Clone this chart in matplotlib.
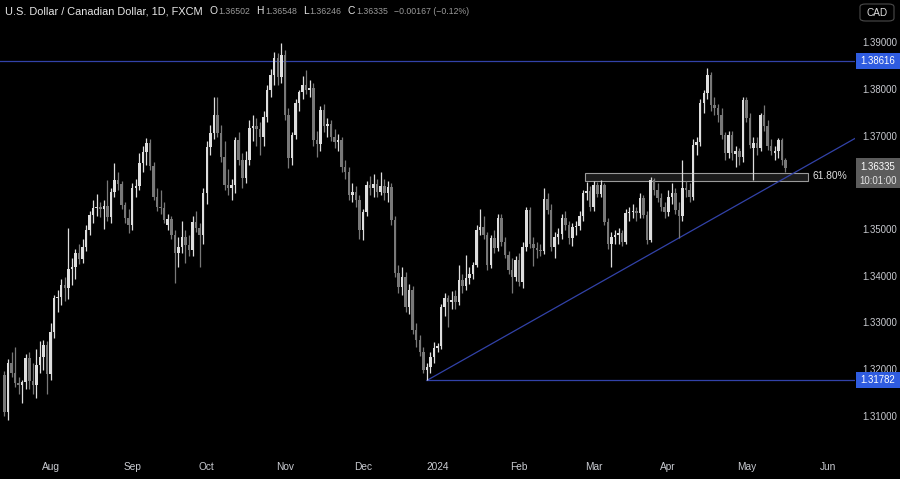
import numpy as np
import pandas as pd
import matplotlib
matplotlib.use('Agg')
import matplotlib.pyplot as plt
from matplotlib.patches import Rectangle, FancyBboxPatch

plt.rcParams['font.family'] = ['Liberation Sans', 'DejaVu Sans']

# USD/CAD daily candles, 2023-07-13 .. 2024-05-16 (one line per month)
start_date = '2023-07-13'
opens = [
    1.3190, 1.3110, 1.3216, 1.3195, 1.3172, 1.3168, 1.3174, 1.3226, 1.3177, 1.3168, 1.3212, 1.3228, 1.3253,
    1.3193, 1.3282, 1.3354, 1.3357, 1.3382, 1.3376, 1.3416, 1.3421, 1.3450, 1.3438, 1.3464, 1.3500, 1.3532, 1.3547, 1.3550, 1.3545, 1.3551, 1.3527, 1.3581, 1.3607, 1.3598, 1.3553, 1.3526,
    1.3511, 1.3590, 1.3595, 1.3643, 1.3667, 1.3686, 1.3636, 1.3571, 1.3549, 1.3546, 1.3510, 1.3524, 1.3489, 1.3451, 1.3464, 1.3485, 1.3468, 1.3458, 1.3517, 1.3505, 1.3489,
    1.3579, 1.3678, 1.3708, 1.3746, 1.3708, 1.3656, 1.3596, 1.3590, 1.3596, 1.3693, 1.3650, 1.3611, 1.3650, 1.3718, 1.3722, 1.3716, 1.3700, 1.3742, 1.3799, 1.3832, 1.3868, 1.3827,
    1.3874, 1.3745, 1.3654, 1.3703, 1.3772, 1.3795, 1.3810, 1.3800, 1.3803, 1.3693, 1.3685, 1.3757, 1.3723, 1.3726, 1.3699, 1.3688, 1.3693, 1.3635, 1.3625, 1.3575, 1.3582, 1.3565,
    1.3500, 1.3539, 1.3596, 1.3590, 1.3598, 1.3582, 1.3595, 1.3579, 1.3592, 1.3521, 1.3408, 1.3378, 1.3400, 1.3335, 1.3372, 1.3286, 1.3265, 1.3240, 1.3201, 1.3208, 1.3228,
    1.3248, 1.3252, 1.3335, 1.3354, 1.3345, 1.3358, 1.3345, 1.3393, 1.3380, 1.3397, 1.3406, 1.3425, 1.3500, 1.3506, 1.3489, 1.3425, 1.3482, 1.3461, 1.3526, 1.3474, 1.3447, 1.3415, 1.3400,
    1.3436, 1.3389, 1.3464, 1.3543, 1.3470, 1.3461, 1.3457, 1.3455, 1.3566, 1.3543, 1.3464, 1.3484, 1.3491, 1.3525, 1.3510, 1.3482, 1.3507, 1.3509, 1.3530, 1.3579, 1.3584,
    1.3550, 1.3596, 1.3578, 1.3596, 1.3518, 1.3470, 1.3486, 1.3490, 1.3493, 1.3475, 1.3536, 1.3539, 1.3541, 1.3536, 1.3568, 1.3532, 1.3479, 1.3607, 1.3586, 1.3568, 1.3550,
    1.3539, 1.3571, 1.3579, 1.3543, 1.3530, 1.3590, 1.3585, 1.3571, 1.3682, 1.3688, 1.3772, 1.3794, 1.3832, 1.3767, 1.3760, 1.3745, 1.3703, 1.3665, 1.3703, 1.3662, 1.3668, 1.3656,
    1.3778, 1.3740, 1.3676, 1.3686, 1.3675, 1.3745, 1.3722, 1.3680, 1.3664, 1.3668, 1.3692, 1.36502,
]
highs = [
    1.3198, 1.3225, 1.3240, 1.3250, 1.3185, 1.3180, 1.3235, 1.3240, 1.3215, 1.3246, 1.3262, 1.3265, 1.3262,
    1.3300, 1.3362, 1.3372, 1.3396, 1.3400, 1.3504, 1.3440, 1.3460, 1.3470, 1.3480, 1.3510, 1.3540, 1.3565, 1.3577, 1.3560, 1.3565, 1.3607, 1.3590, 1.3643, 1.3625, 1.3605, 1.3560, 1.3545,
    1.3600, 1.3610, 1.3665, 1.3680, 1.3697, 1.3694, 1.3645, 1.3590, 1.3585, 1.3560, 1.3535, 1.3530, 1.3500, 1.3485, 1.3520, 1.3500, 1.3490, 1.3530, 1.3540, 1.3515, 1.3590,
    1.3690, 1.3725, 1.3784, 1.3785, 1.3725, 1.3690, 1.3630, 1.3610, 1.3700, 1.3710, 1.3665, 1.3670, 1.3735, 1.3745, 1.3740, 1.3730, 1.3755, 1.3810, 1.3845, 1.3880, 1.3878, 1.3900,
    1.3885, 1.3760, 1.3710, 1.3780, 1.3800, 1.3830, 1.3842, 1.3820, 1.3815, 1.3712, 1.3765, 1.3770, 1.3740, 1.3735, 1.3715, 1.3705, 1.3700, 1.3650, 1.3635, 1.3600, 1.3595, 1.3575,
    1.3545, 1.3605, 1.3615, 1.3620, 1.3610, 1.3625, 1.3610, 1.3605, 1.3600, 1.3530, 1.3425, 1.3420, 1.3410, 1.3385, 1.3380, 1.3300, 1.3275, 1.3250, 1.3215, 1.3240, 1.3260,
    1.3258, 1.3342, 1.3365, 1.3362, 1.3370, 1.3372, 1.3425, 1.3405, 1.3447, 1.3420, 1.3432, 1.3510, 1.3545, 1.3530, 1.3495, 1.3490, 1.3500, 1.3535, 1.3535, 1.3485, 1.3455, 1.3440, 1.3445,
    1.3450, 1.3475, 1.3550, 1.3550, 1.3485, 1.3475, 1.3470, 1.3590, 1.3580, 1.3555, 1.3495, 1.3505, 1.3535, 1.3540, 1.3520, 1.3515, 1.3520, 1.3540, 1.3585, 1.3603, 1.3595,
    1.3605, 1.3602, 1.3607, 1.3600, 1.3525, 1.3495, 1.3500, 1.3505, 1.3500, 1.3545, 1.3550, 1.3555, 1.3550, 1.3580, 1.3575, 1.3540, 1.3614, 1.3612, 1.3600, 1.3580, 1.3560,
    1.3585, 1.3600, 1.3590, 1.3560, 1.3650, 1.3605, 1.3600, 1.3695, 1.3700, 1.3780, 1.3800, 1.3846, 1.3838, 1.3785, 1.3770, 1.3760, 1.3710, 1.3712, 1.3712, 1.3680, 1.3675, 1.3785,
    1.3785, 1.3750, 1.3700, 1.3700, 1.3750, 1.3767, 1.3735, 1.3695, 1.3680, 1.3697, 1.3697, 1.36548,
]
lows = [
    1.3103, 1.3093, 1.3185, 1.3165, 1.3150, 1.3130, 1.3160, 1.3160, 1.3150, 1.3140, 1.3195, 1.3200, 1.3150,
    1.3180, 1.3270, 1.3325, 1.3340, 1.3348, 1.3352, 1.3382, 1.3395, 1.3428, 1.3430, 1.3455, 1.3490, 1.3515, 1.3530, 1.3528, 1.3502, 1.3520, 1.3515, 1.3570, 1.3585, 1.3545, 1.3515, 1.3494,
    1.3500, 1.3570, 1.3585, 1.3625, 1.3640, 1.3628, 1.3565, 1.3540, 1.3535, 1.3515, 1.3500, 1.3480, 1.3387, 1.3420, 1.3450, 1.3430, 1.3445, 1.3445, 1.3495, 1.3421, 1.3470,
    1.3555, 1.3660, 1.3695, 1.3700, 1.3645, 1.3585, 1.3575, 1.3565, 1.3580, 1.3640, 1.3590, 1.3600, 1.3640, 1.3690, 1.3680, 1.3660, 1.3680, 1.3730, 1.3785, 1.3810, 1.3810, 1.3815,
    1.3735, 1.3633, 1.3640, 1.3695, 1.3755, 1.3780, 1.3790, 1.3785, 1.3680, 1.3656, 1.3670, 1.3710, 1.3700, 1.3690, 1.3675, 1.3670, 1.3625, 1.3610, 1.3565, 1.3560, 1.3550, 1.3480,
    1.3478, 1.3530, 1.3575, 1.3570, 1.3570, 1.3575, 1.3565, 1.3560, 1.3510, 1.3400, 1.3365, 1.3360, 1.3325, 1.3320, 1.3278, 1.3250, 1.3230, 1.3195, 1.31782, 1.3195, 1.3215,
    1.3240, 1.3245, 1.3315, 1.3293, 1.3330, 1.3330, 1.3340, 1.3365, 1.3372, 1.3385, 1.3395, 1.3420, 1.3490, 1.3480, 1.3415, 1.3418, 1.3450, 1.3455, 1.3465, 1.3440, 1.3405, 1.3365, 1.3390,
    1.3380, 1.3375, 1.3455, 1.3462, 1.3422, 1.3440, 1.3445, 1.3448, 1.3535, 1.3455, 1.3440, 1.3470, 1.3480, 1.3500, 1.3470, 1.3465, 1.3490, 1.3500, 1.3520, 1.3565, 1.3540,
    1.3540, 1.3570, 1.3570, 1.3510, 1.3460, 1.3421, 1.3470, 1.3470, 1.3465, 1.3470, 1.3520, 1.3525, 1.3520, 1.3525, 1.3525, 1.3470, 1.3475, 1.3575, 1.3560, 1.3540, 1.3525,
    1.3530, 1.3555, 1.3535, 1.3483, 1.3520, 1.3570, 1.3560, 1.3565, 1.3660, 1.3680, 1.3750, 1.3780, 1.3755, 1.3745, 1.3730, 1.3695, 1.3650, 1.3655, 1.3650, 1.3635, 1.3640, 1.3645,
    1.3730, 1.3675, 1.3607, 1.3660, 1.3668, 1.3712, 1.3672, 1.3660, 1.3650, 1.3655, 1.3640, 1.36246,
]
closes = [
    1.3110, 1.3216, 1.3195, 1.3172, 1.3168, 1.3174, 1.3226, 1.3177, 1.3168, 1.3212, 1.3228, 1.3253, 1.3193,
    1.3282, 1.3354, 1.3357, 1.3382, 1.3376, 1.3416, 1.3421, 1.3450, 1.3438, 1.3464, 1.3500, 1.3532, 1.3547, 1.3550, 1.3545, 1.3551, 1.3527, 1.3581, 1.3607, 1.3598, 1.3553, 1.3526, 1.3511,
    1.3590, 1.3595, 1.3643, 1.3667, 1.3686, 1.3636, 1.3571, 1.3549, 1.3546, 1.3521, 1.3524, 1.3489, 1.3451, 1.3464, 1.3485, 1.3468, 1.3458, 1.3517, 1.3505, 1.3489, 1.3579,
    1.3678, 1.3708, 1.3746, 1.3708, 1.3656, 1.3596, 1.3590, 1.3596, 1.3693, 1.3650, 1.3611, 1.3650, 1.3718, 1.3722, 1.3716, 1.3700, 1.3742, 1.3799, 1.3832, 1.3868, 1.3827, 1.3874,
    1.3745, 1.3654, 1.3703, 1.3772, 1.3795, 1.3810, 1.3800, 1.3803, 1.3693, 1.3685, 1.3757, 1.3723, 1.3726, 1.3699, 1.3688, 1.3693, 1.3635, 1.3625, 1.3575, 1.3582, 1.3565, 1.3500,
    1.3539, 1.3596, 1.3590, 1.3598, 1.3582, 1.3595, 1.3579, 1.3592, 1.3521, 1.3408, 1.3378, 1.3400, 1.3335, 1.3372, 1.3286, 1.3265, 1.3240, 1.3201, 1.3208, 1.3228, 1.3248,
    1.3252, 1.3335, 1.3354, 1.3345, 1.3350, 1.3345, 1.3393, 1.3380, 1.3397, 1.3406, 1.3425, 1.3500, 1.3506, 1.3489, 1.3425, 1.3482, 1.3461, 1.3526, 1.3474, 1.3447, 1.3415, 1.3400, 1.3436,
    1.3389, 1.3464, 1.3543, 1.3470, 1.3461, 1.3457, 1.3455, 1.3566, 1.3543, 1.3464, 1.3484, 1.3491, 1.3525, 1.3510, 1.3482, 1.3507, 1.3509, 1.3530, 1.3579, 1.3584, 1.3550,
    1.3596, 1.3578, 1.3596, 1.3518, 1.3470, 1.3486, 1.3490, 1.3493, 1.3475, 1.3536, 1.3539, 1.3541, 1.3536, 1.3568, 1.3532, 1.3479, 1.3607, 1.3586, 1.3568, 1.3550, 1.3539,
    1.3571, 1.3579, 1.3543, 1.3530, 1.3590, 1.3585, 1.3571, 1.3682, 1.3688, 1.3772, 1.3794, 1.3832, 1.3767, 1.3760, 1.3745, 1.3703, 1.3665, 1.3703, 1.3665, 1.3668, 1.3656, 1.3778,
    1.3740, 1.3682, 1.3686, 1.3675, 1.3745, 1.3722, 1.3680, 1.3670, 1.3668, 1.3692, 1.3650, 1.36335,
]

# levels drawn on the chart
resistance = 1.38616
support = 1.31782
last_price = 1.36335
zone_low, zone_high = 1.3605, 1.3621
zone_start, zone_end = '2024-02-28', '2024-05-24'
trend_p1 = ('2023-12-27', 1.31782)
trend_p2 = ('2024-04-04', 1.3483)
# 1.36 sits under the last-price badge, so the scale does not show it
price_ticks = [1.39, 1.38, 1.37, 1.35, 1.34, 1.33, 1.32, 1.31]
month_starts = ['2023-08-01', '2023-09-01', '2023-10-02', '2023-11-01', '2023-12-01',
                '2024-01-01', '2024-02-01', '2024-03-01', '2024-04-01', '2024-05-01', '2024-06-03']
month_labels = ['Aug', 'Sep', 'Oct', 'Nov', 'Dec', '2024', 'Feb', 'Mar', 'Apr', 'May', 'Jun']

o = np.array(opens); h = np.array(highs); l = np.array(lows); c = np.array(closes)
n = len(c)
days = pd.bdate_range(start_date, '2024-06-28')
pos = lambda d: days.searchsorted(pd.Timestamp(d))
x = np.arange(n)

UP = '#dedede'
DOWN = '#787878'
LINE = '#3242a8'
BLUE = '#2f5ce0'
TXT = '#c9cbd1'

fig = plt.figure(figsize=(9, 4.79), dpi=100, facecolor='black')
ax = fig.add_axes([0, 24/479, 855/900, 455/479])
ax.set_facecolor('black')
ax.set_xlim(-1.25, 239.6)
ax.set_ylim(1.30187, 1.39920)
ax.axis('off')

col = np.where(c >= o, UP, DOWN)
ax.vlines(x, l, h, colors=col, linewidth=0.9, zorder=3)
body = c - o
body = np.where(np.abs(body) < 0.00004, 0.00004, body)
ax.bar(x, body, bottom=o, width=0.7, color=col, linewidth=0, zorder=4)

# horizontal levels
ax.axhline(resistance, color=LINE, linewidth=0.9, zorder=2)
x_low = pos(trend_p1[0])
ax.plot([x_low, 239.6], [support, support], color=LINE, linewidth=0.9, zorder=2)

# trend line through two lows, extended to right edge
x2 = pos(trend_p2[0])
slope = (trend_p2[1] - trend_p1[1]) / (x2 - x_low)
xe = 239.6
ax.plot([x_low, xe], [trend_p1[1], trend_p1[1] + slope * (xe - x_low)], color=LINE, linewidth=0.9, zorder=2)

# 61.8% zone
zs, ze = pos(zone_start) - 0.5, pos(zone_end) + 0.5
ax.add_patch(Rectangle((zs, zone_low), ze - zs, zone_high - zone_low, facecolor='#1b1b1b',
                       edgecolor='#9a9a9a', linewidth=0.8, zorder=1))
ax.text(ze + 1.0, (zone_low + zone_high) / 2 + 0.0002, '61.80%', color='#e0e0e0', fontsize=7.4,
        va='center', ha='left', zorder=6)

# right price scale
ytr = ax.get_yaxis_transform()
for p in price_ticks:
    ax.text(862/855, p, f'{p:.5f}', transform=ytr, color=TXT, fontsize=6.9,
            va='center', ha='left', clip_on=False, zorder=5)

box_h = 16 / 4675
for p in [resistance, support]:
    ax.add_patch(Rectangle((856/855, p - box_h/2), 44/855, box_h, transform=ytr, facecolor=BLUE,
                           edgecolor='none', clip_on=False, zorder=7))
    ax.text(878/855, p, f'{p:.5f}', transform=ytr, color='white', fontsize=6.9,
            va='center', ha='center', clip_on=False, zorder=8)

ax.add_patch(Rectangle((856/855, 1.35898), 44/855, 1.36540 - 1.35898, transform=ytr,
                       facecolor='#5c5c5c', edgecolor='none', clip_on=False, zorder=7))
ax.text(878/855, last_price + 0.0001, f'{last_price:.5f}', transform=ytr, color='white', fontsize=6.9,
        va='center', ha='center', clip_on=False, zorder=8)
ax.text(878/855, 1.36053, '10:01:00', transform=ytr, color='#e6e6e6', fontsize=6.9,
        va='center', ha='center', clip_on=False, zorder=8)

# bottom time scale
xtr = ax.get_xaxis_transform()
for d, lab in zip(month_starts, month_labels):
    ax.text(pos(d), -12/455, lab, transform=xtr, color=TXT, fontsize=7.3,
            va='center', ha='center', clip_on=False)

# currency badge
fig.patches.append(FancyBboxPatch((860/900, 1 - 21/479), 34/900, 17/479, boxstyle='round,pad=0,rounding_size=0.006',
                                  transform=fig.transFigure, facecolor='black', edgecolor='#4a4a4a', linewidth=0.8))
fig.text(877/900, 1 - 12.5/479, 'CAD', color='#e0e0e0', fontsize=7.2, ha='center', va='center')

# header legend: name, then OHLC letters with smaller grey values
fig.canvas.draw()
r = fig.canvas.get_renderer()
pieces = [('U.S. Dollar / Canadian Dollar, 1D, FXCM', '#e6e6e6', 7.9, 0),
          ('O', '#e6e6e6', 7.4, 6), ('1.36502', '#9a9a9a', 6.3, 0),
          ('H', '#e6e6e6', 7.4, 5), ('1.36548', '#9a9a9a', 6.3, 0),
          ('L', '#e6e6e6', 7.4, 5), ('1.36246', '#9a9a9a', 6.3, 0),
          ('C', '#e6e6e6', 7.4, 5), ('1.36335', '#9a9a9a', 6.3, 0),
          ('\u22120.00167 (\u22120.12%)', '#9a9a9a', 6.3, 5)]
xp = 5
for s, cc, fs, gap in pieces:
    xp += gap
    t = fig.text(xp/900, 1 - 11/479, s, color=cc, fontsize=fs, ha='left', va='center')
    xp += t.get_window_extent(r).width + 1

fig.savefig('out.png', dpi=100, facecolor='black')
